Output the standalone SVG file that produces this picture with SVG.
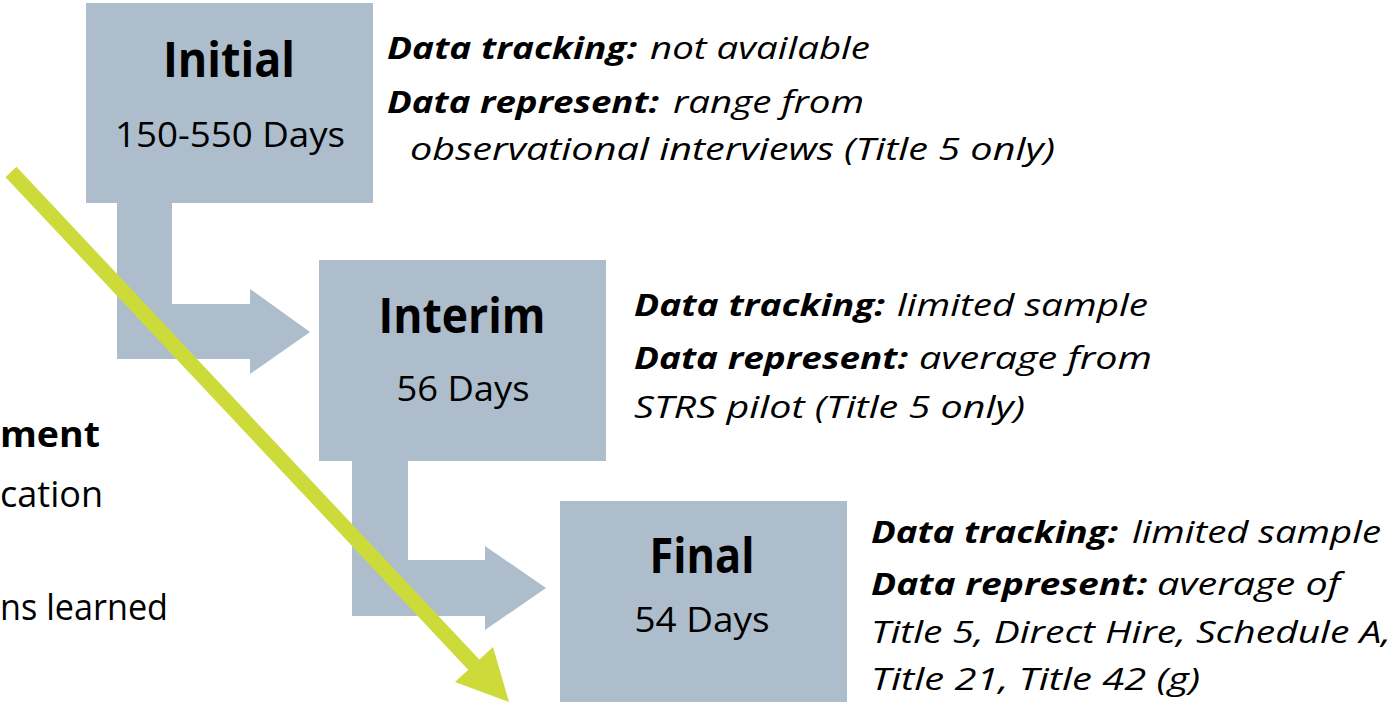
<svg xmlns="http://www.w3.org/2000/svg" width="1394" height="702" viewBox="0 0 1394 702">
<style>
  .box { fill: #adbdcc; }
  .bent { fill: #adbdcc; }
  text { font-family: "Open Sans", "Liberation Sans", sans-serif; fill: #000; }
  .title { font-size: 48px; font-weight: bold; text-anchor: middle; }
  .days { font-size: 34px; text-anchor: middle; }
  .note { font-size: 31px; font-style: italic; }
  .b { font-weight: bold; }
  .left { font-size: 36px; text-anchor: end; }
</style>
<rect width="1394" height="702" fill="#ffffff"/>

<g id="left-text">
  <text class="left" x="100" y="447" font-weight="bold" textLength="100" lengthAdjust="spacingAndGlyphs">ment</text>
  <text class="left" x="103" y="507" textLength="103" lengthAdjust="spacingAndGlyphs">cation</text>
  <text class="left" x="168" y="620" textLength="168" lengthAdjust="spacingAndGlyphs">ns learned</text>
</g>

<g id="connectors">
  <polygon class="bent" points="117,203 172,203 172,304 250,304 250,289 310,332 250,374 250,359 117,359"/>
  <polygon class="bent" points="352,461 408,461 408,560 485,560 485,546 546,588 485,630 485,616 352,616"/>
</g>

<g id="node-initial">
  <rect class="box" x="86" y="3" width="287" height="200"/>
  <text class="title" x="229" y="77" textLength="132" lengthAdjust="spacingAndGlyphs">Initial</text>
  <text class="days" x="230" y="147" textLength="230" lengthAdjust="spacingAndGlyphs">150-550 Days</text>
</g>

<g id="node-interim">
  <rect class="box" x="319" y="260" width="287" height="201"/>
  <text class="title" x="462" y="333" textLength="167" lengthAdjust="spacingAndGlyphs">Interim</text>
  <text class="days" x="463" y="401" textLength="133" lengthAdjust="spacingAndGlyphs">56 Days</text>
</g>

<g id="node-final">
  <rect class="box" x="560" y="501" width="287" height="201"/>
  <text class="title" x="702" y="573" textLength="105" lengthAdjust="spacingAndGlyphs">Final</text>
  <text class="days" x="702" y="632" textLength="135" lengthAdjust="spacingAndGlyphs">54 Days</text>
</g>

<g id="notes-initial">
  <text class="note b" x="387" y="59" textLength="250" lengthAdjust="spacingAndGlyphs">Data tracking:</text>
  <text class="note" x="650" y="59" textLength="220" lengthAdjust="spacingAndGlyphs">not available</text>
  <text class="note b" x="387" y="113" textLength="272" lengthAdjust="spacingAndGlyphs">Data represent:</text>
  <text class="note" x="673" y="113" textLength="191" lengthAdjust="spacingAndGlyphs">range from</text>
  <text class="note" x="410" y="160" textLength="645" lengthAdjust="spacingAndGlyphs">observational interviews (Title 5 only)</text>
</g>

<g id="notes-interim">
  <text class="note b" x="634" y="316" textLength="251" lengthAdjust="spacingAndGlyphs">Data tracking:</text>
  <text class="note" x="897" y="316" textLength="251" lengthAdjust="spacingAndGlyphs">limited sample</text>
  <text class="note b" x="634" y="369" textLength="274" lengthAdjust="spacingAndGlyphs">Data represent:</text>
  <text class="note" x="919" y="369" textLength="233" lengthAdjust="spacingAndGlyphs">average from</text>
  <text class="note" x="634" y="418" textLength="391" lengthAdjust="spacingAndGlyphs">STRS pilot (Title 5 only)</text>
</g>

<g id="notes-final">
  <text class="note b" x="871" y="543" textLength="247" lengthAdjust="spacingAndGlyphs">Data tracking:</text>
  <text class="note" x="1132" y="543" textLength="249" lengthAdjust="spacingAndGlyphs">limited sample</text>
  <text class="note b" x="871" y="595" textLength="276" lengthAdjust="spacingAndGlyphs">Data represent:</text>
  <text class="note" x="1157" y="595" textLength="183" lengthAdjust="spacingAndGlyphs">average of</text>
  <text class="note" x="871" y="643" textLength="520" lengthAdjust="spacingAndGlyphs">Title 5, Direct Hire, Schedule A,</text>
  <text class="note" x="871" y="690" textLength="329" lengthAdjust="spacingAndGlyphs">Title 21, Title 42 (g)</text>
</g>

<g id="trend-arrow">
  <line x1="11" y1="172" x2="476" y2="667" stroke="#ccdb3a" stroke-width="15"/>
  <polygon points="455,682 493,647 509,702" fill="#ccdb3a"/>
</g>
</svg>
